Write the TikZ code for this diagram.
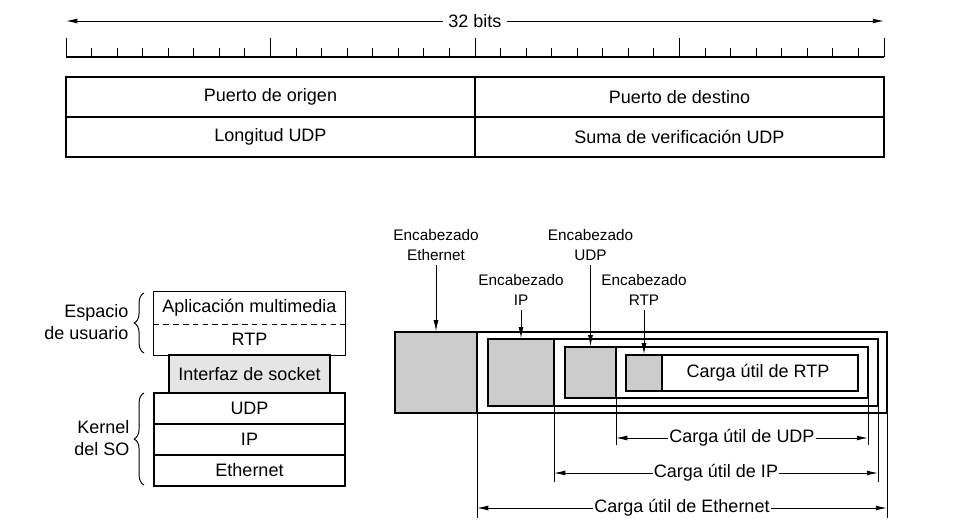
\documentclass[tikz,border=0pt]{standalone}
\usepackage{fontspec}
\setmainfont{Liberation Sans}
\usetikzlibrary{arrows.meta,decorations.pathreplacing}

\begin{document}
\begin{tikzpicture}[x=0.025cm,y=-0.025cm]
\tikzset{texto/.style={font=\fontsize{12.8}{15.4}\selectfont, inner sep=1pt},
  etiq/.style={font=\fontsize{10.9}{14.2}\selectfont, align=center, inner sep=1pt},
  caja/.style={draw, line width=0.8pt},
  capa/.style={caja, texto, minimum width=4.775cm, minimum height=0.775cm},
  cabecera/.style={caja, fill=gray!40, inner sep=0pt},
  flecha/.style={-{Latex[length=8pt,width=3.5pt]}, line width=0.7pt},
  cota/.style={{Latex[length=8pt,width=3.5pt]}-{Latex[length=8pt,width=3.5pt]}, line width=0.7pt},
  llave/.style={decorate, decoration={brace, amplitude=7pt}, line width=0.7pt}}
\useasboundingbox (0,0) rectangle (955,530);
\coordinate (b1) at (66,21);
\coordinate (b2) at (884,21);
\draw[cota] (b1) -- (b2) node[midway, fill=white, texto, inner sep=4pt] (bits) {32 bits};
\draw[line width=0.8pt] (66,57) -- (884,57);
\foreach \i in {0,...,32}{
  \pgfmathsetmacro{\alto}{ifthenelse(mod(\i,8)==0,38,48)}
  \draw[line width=0.7pt] (66+25.5625*\i,57) -- (66+25.5625*\i,\alto);
}
\draw[caja] (66,77) rectangle (884,157);
\draw[caja] (66,117) -- (884,117);
\draw[caja] (475,77) -- (475,157);
\node[texto] (c1) at (270.5,97) {Puerto de origen};
\node[texto] (c2) at (679.5,97) {Puerto de destino};
\node[texto] (c3) at (270.5,137) {Longitud UDP};
\node[texto] (c4) at (679.5,137) {Suma de verificación UDP};
\node[capa, draw=none, minimum height=0.7875cm] (app) at (249.5,307.75) {Aplicación multimedia};
\node[capa, draw=none, minimum height=0.7875cm] (rtp) at (249.5,339.25) {RTP};
\draw[caja] (app.north west) rectangle (rtp.south east);
\draw[line width=0.6pt, dash pattern=on 4pt off 3pt] (app.south west) -- (app.south east);
\node[capa, fill=gray!20, minimum width=4.025cm, minimum height=0.95cm] (sock) at (249.5,374) {Interfaz de socket};
\node[capa] (udp) at (249.5,408.5) {UDP};
\node[capa] (ip) at (249.5,439.5) {IP};
\node[capa] (eth) at (249.5,470.5) {Ethernet};
\draw[llave] (144,353) -- (144,293);
\draw[llave] (144,485) -- (144,393);
\node[texto, align=right, anchor=east] (esp) at (130,322) {Espacio\\de usuario};
\node[texto, align=right, anchor=east] (ker) at (131,438) {Kernel\\del SO};
\draw[caja] (395,332) rectangle (887,413);
\draw[caja] (488,339) rectangle (878,406);
\draw[caja] (565,347) rectangle (868,398);
\draw[caja] (626,355) rectangle (858,391);
\node[cabecera, minimum width=2.05cm, minimum height=2.025cm] (hEth) at (436,372.5) {};
\node[cabecera, minimum width=1.65cm, minimum height=1.675cm] (hIP) at (521,372.5) {};
\node[cabecera, minimum width=1.275cm, minimum height=1.275cm] (hUDP) at (590.5,372.5) {};
\node[cabecera, minimum width=0.9cm, minimum height=0.9cm] (hRTP) at (644,373) {};
\node[texto] (crtp) at (758,373) {Carga útil de RTP};
\node[etiq] (lEth) at (436,245) {Encabezado\\Ethernet};
\node[etiq] (lIP) at (521,290) {Encabezado\\IP};
\node[etiq] (lUDP) at (590.5,245) {Encabezado\\UDP};
\node[etiq] (lRTP) at (644,290) {Encabezado\\RTP};
\draw[flecha, shorten <=2pt] (lEth) -- (hEth);
\draw[flecha, shorten <=2pt] (lIP) -- (hIP);
\draw[flecha, shorten <=2pt] (lUDP) -- (hUDP);
\draw[flecha, shorten <=2pt] (lRTP) -- (hRTP);
\draw[line width=0.7pt] (616,398) -- (616,445) (868,398) -- (868,445);
\draw[line width=0.7pt] (554,406) -- (554,482) (878,406) -- (878,482);
\draw[line width=0.7pt] (477,413) -- (477,518) (887,413) -- (887,518);
\coordinate (u1) at (616,438);
\coordinate (u2) at (868,438);
\coordinate (i1) at (554,473);
\coordinate (i2) at (878,473);
\coordinate (e1) at (477,508);
\coordinate (e2) at (887,508);
\draw[cota] (u1) -- (u2) node[midway, fill=white, texto] (pudp) {Carga útil de UDP};
\draw[cota] (i1) -- (i2) node[midway, fill=white, texto] (pip) {Carga útil de IP};
\draw[cota] (e1) -- (e2) node[midway, fill=white, texto] (peth) {Carga útil de Ethernet};
\end{tikzpicture}
\end{document}
